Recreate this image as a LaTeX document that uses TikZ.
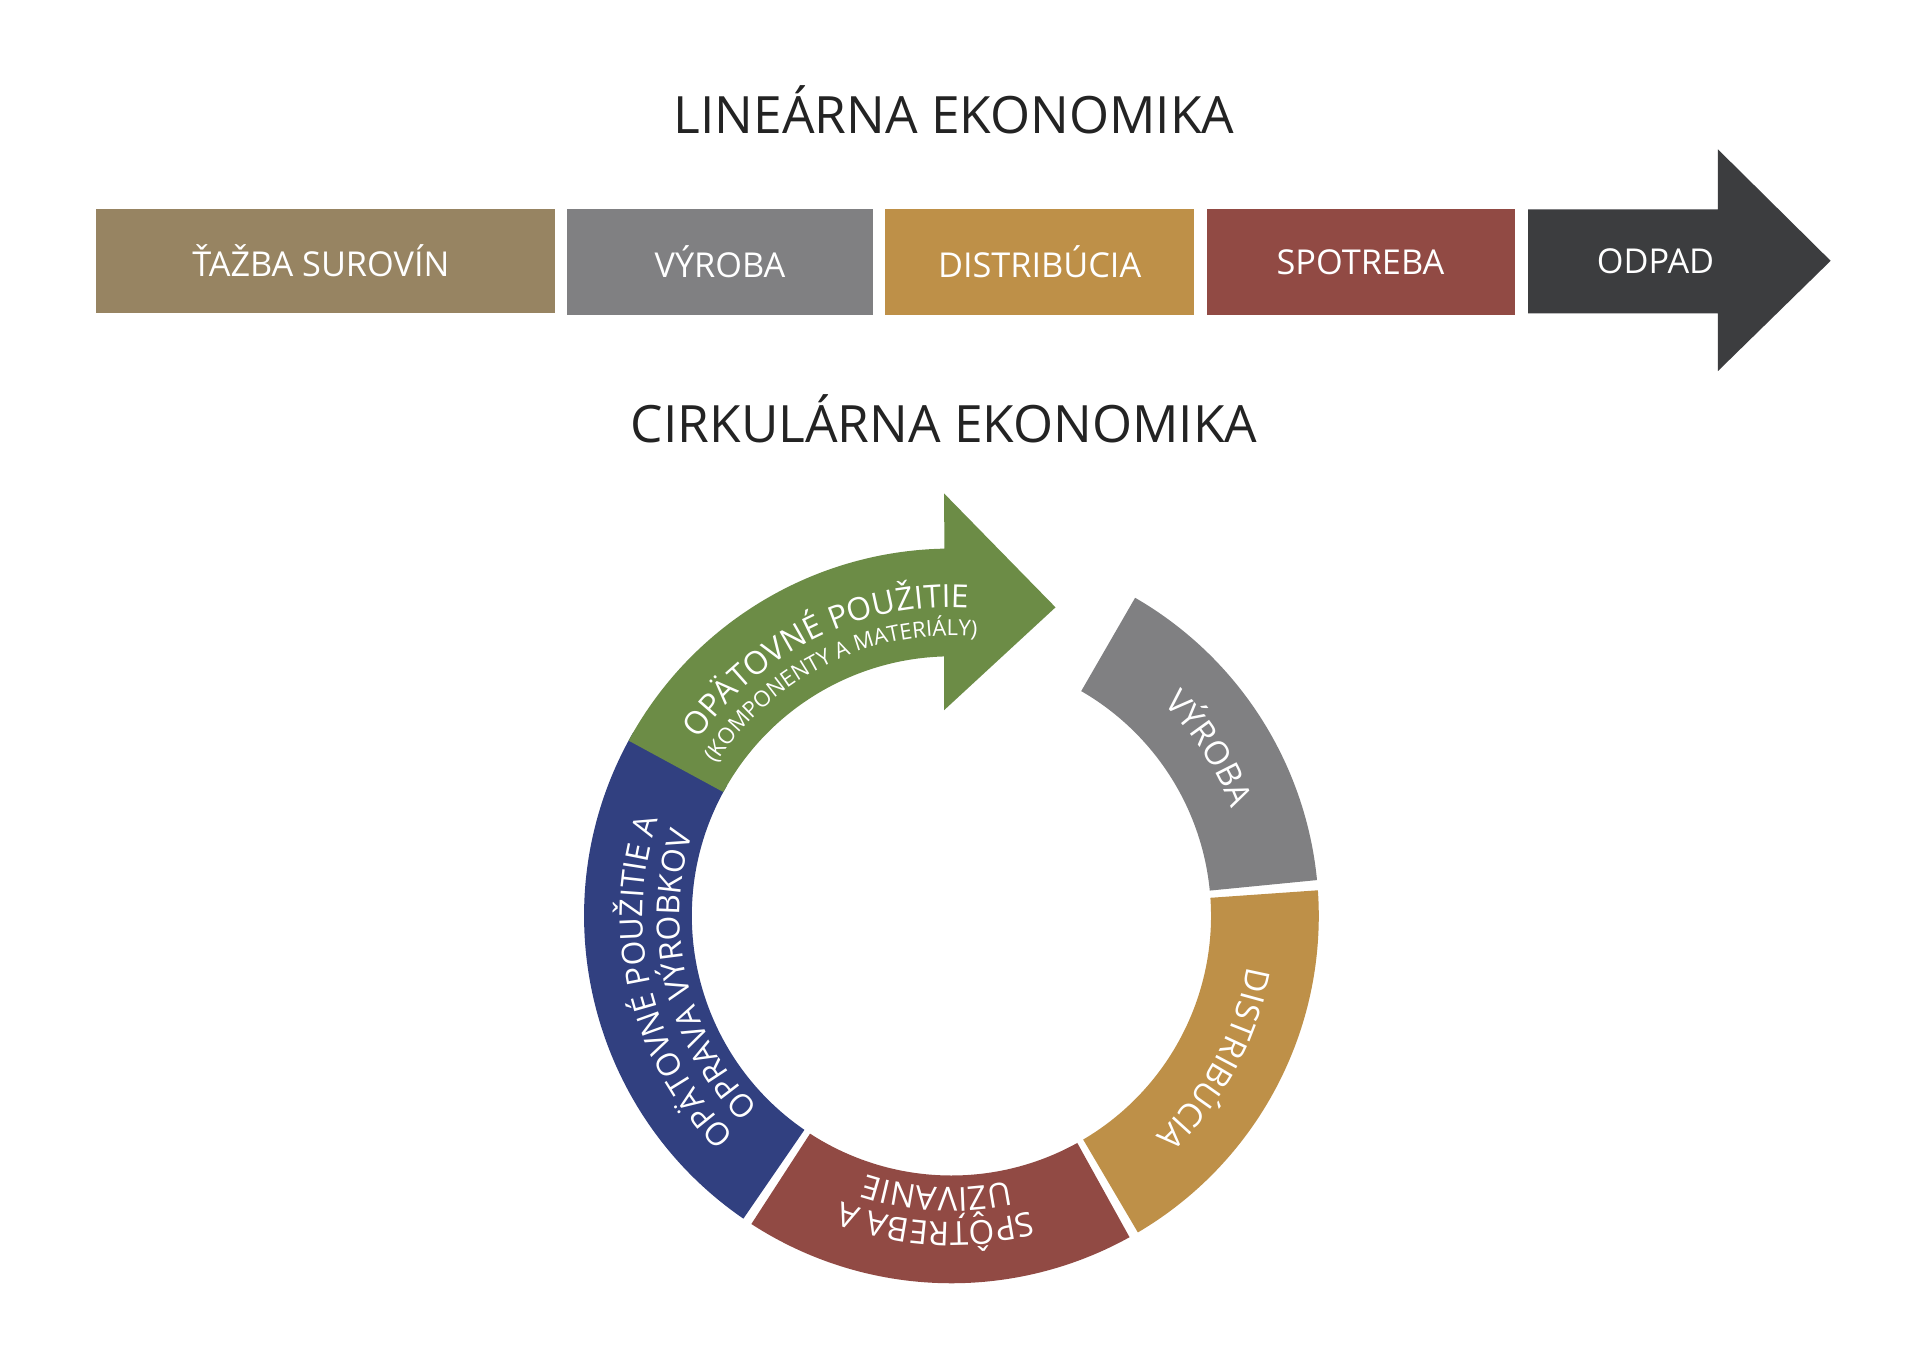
\documentclass[tikz,border=0pt]{standalone}
\usepackage{fontspec}
\setmainfont{Open Sans}
\usetikzlibrary{decorations.text}
\definecolor{cTaz}{RGB}{151,132,98}
\definecolor{cVyr}{RGB}{128,128,130}
\definecolor{cDis}{RGB}{190,144,72}
\definecolor{cSpo}{RGB}{145,74,68}
\definecolor{cOdp}{RGB}{60,61,63}
\definecolor{cBlu}{RGB}{49,64,128}
\definecolor{cGre}{RGB}{108,140,70}
\definecolor{cTit}{RGB}{35,35,35}
\tikzset{
  boxtxt/.style={text=white,font=\fontsize{28}{28}\selectfont,anchor=center},
  title/.style={text=cTit,font=\fontsize{42}{42}\selectfont},
}
\newcommand{\arctext}[5]{% start angle, end angle, radius, font size, text
  \path[postaction={decorate},decoration={text along path,text align=center,
    text={|\fontsize{#4}{#4}\selectfont\color{white}|#5}}]
    (C) ++(#1:#3) arc[start angle=#1,end angle=#2,radius=#3];}
\newcommand{\seg}[3]{% color, a1, a2
  \fill[#1] (C) ++(#2:300) arc[start angle=#2,end angle=#3,radius=300]
    -- ($(C)+(#3:212)$) arc[start angle=#3,end angle=#2,radius=212] -- cycle;}
\usetikzlibrary{calc}
\begin{document}
\begin{tikzpicture}[x=1pt,y=1pt]
\useasboundingbox (0,0) rectangle (1568,1109);
\fill[white] (0,0) rectangle (1568,1109);
\node[title] (t1) at (779,1019) {LINEÁRNA EKONOMIKA};
\node[title] (t2) at (771,767) {CIRKULÁRNA EKONOMIKA};
\fill[cTaz] (78,853) rectangle (453,938);
\fill[cVyr] (463,852) rectangle (713,938);
\fill[cDis] (723,852) rectangle (975,938);
\fill[cSpo] (986,852) rectangle (1237,938);
\fill[cOdp] (1248,853) -- (1403,853) -- (1403,806) -- (1495,896) -- (1403,987) -- (1403,938) -- (1248,938) -- cycle;
\node[boxtxt] (b1) at (262,896) {ŤAŽBA SUROVÍN};
\node[boxtxt] (b2) at (588,895) {VÝROBA};
\node[boxtxt] (b3) at (849,895) {DISTRIBÚCIA};
\node[boxtxt] (b4) at (1111,895) {SPOTREBA};
\node[boxtxt] (b5) at (1352,896) {ODPAD};
\coordinate (C) at (777,361);
\seg{cVyr}{60}{5.6}
\seg{cDis}{4}{-59.5}
\seg{cSpo}{-61}{-123}
\seg{cBlu}{-124.5}{-210}
\fill[cGre] (C) ++(151.5:300) arc[start angle=151.5,end angle=91.1,radius=300]
  -- (771,706) -- (862,613) -- (771,529)
  -- ($(C)+(91.6:212)$) arc[start angle=91.6,end angle=151.5,radius=212] -- cycle;
\arctext{58}{8}{245}{27}{VÝROBA}
\arctext{3}{-60}{245}{27}{DISTRIBÚCIA}
\arctext{-63}{-123}{250}{27}{SPÔTREBA A}
\arctext{-63}{-123}{222}{27}{UŽÍVANIE}
\arctext{235}{152}{252}{26}{OPÄTOVNÉ POUŽITIE A}
\arctext{235}{152}{222}{26}{OPRAVA VÝROBKOV}
\arctext{152}{80}{252}{26}{OPÄTOVNÉ POUŽITIE}
\arctext{152}{80}{229}{18}{(KOMPONENTY A MATERIÁLY)}
\end{tikzpicture}
\end{document}
